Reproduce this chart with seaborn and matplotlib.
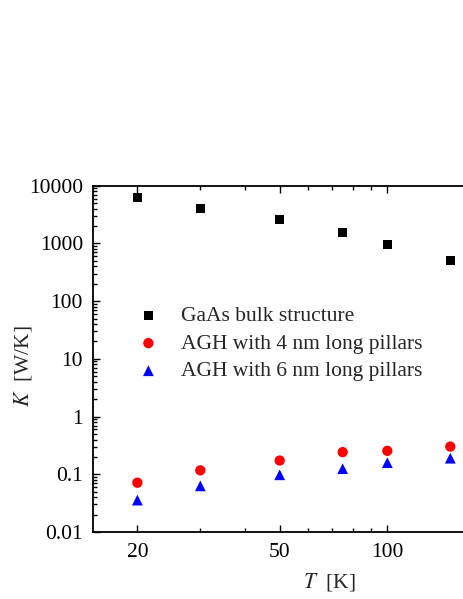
import matplotlib
matplotlib.use("Agg")
import matplotlib.pyplot as plt
import seaborn as sns
import pandas as pd
import math
from matplotlib.ticker import LogLocator, NullFormatter, FixedLocator, FixedFormatter

temps = [20, 30, 50, 75, 100, 150]
gaas_bulk = [6200, 4050, 2640, 1560, 940, 515]
agh_4nm = [0.0715, 0.117, 0.173, 0.242, 0.255, 0.302]
agh_6nm = [0.0357, 0.063, 0.098, 0.125, 0.159, 0.19]
series_names = ["GaAs bulk structure", "AGH with 4 nm long pillars", "AGH with 6 nm long pillars"]
x_ticks = [20, 50, 100]
x_tick_labels = ["20", "50", "100"]
y_ticks = [0.01, 0.1, 1, 10, 100, 1000, 10000]
y_tick_labels = ["0.01", "0.1", "1", "10", "100", "1000", "10000"]

sns.set_style("ticks")
plt.rcParams['font.family'] = ['Liberation Serif', 'DejaVu Serif']
plt.rcParams['mathtext.fontset'] = 'stix'

W, H = 463, 599
fig = plt.figure(figsize=(W / 100, H / 100), dpi=100)
left_px, top_px, bottom_px = 92.7, 185.7, 532.0
xmin, xmax = 15, 165
px_per_dec = 357.6
width_px = px_per_dec * math.log10(xmax / xmin)
ax = fig.add_axes([left_px / W, 1 - bottom_px / H, width_px / W, (bottom_px - top_px) / H])

df = pd.DataFrame({
    "T": temps * 3,
    "K": gaas_bulk + agh_4nm + agh_6nm,
    "series": [series_names[0]] * 6 + [series_names[1]] * 6 + [series_names[2]] * 6,
})

palette = {series_names[0]: "black", series_names[1]: "#ff0000", series_names[2]: "#0000ff"}
markers = {series_names[0]: "s", series_names[1]: "o", series_names[2]: "^"}
sizes = {series_names[0]: 42, series_names[1]: 55, series_names[2]: 60}
for name in series_names:
    sub = df[df["series"] == name]
    sns.scatterplot(data=sub, x="T", y="K", color=palette[name], marker=markers[name],
                    s=sizes[name], edgecolor="none", linewidth=0, label=name, ax=ax, clip_on=False)

ax.set_xscale("log")
ax.set_yscale("log")
ax.set_xlim(xmin, xmax)
ax.set_ylim(0.01, 10000)

ax.xaxis.set_major_locator(FixedLocator(x_ticks))
ax.xaxis.set_major_formatter(FixedFormatter(x_tick_labels))
ax.xaxis.set_minor_locator(FixedLocator([30, 40, 60, 70, 80, 90]))
ax.xaxis.set_minor_formatter(NullFormatter())
ax.yaxis.set_major_locator(FixedLocator(y_ticks))
ax.yaxis.set_major_formatter(FixedFormatter(y_tick_labels))
ax.yaxis.set_minor_locator(LogLocator(base=10, subs=range(2, 10), numticks=20))
ax.yaxis.set_minor_formatter(NullFormatter())

ax.tick_params(which="both", direction="in", top=True, right=False, labelsize=15.5, width=1.0, colors="black")
ax.tick_params(which="major", length=5)
ax.tick_params(which="minor", length=3)
ax.tick_params(axis="x", which="major", pad=8)
ax.tick_params(axis="y", which="major", pad=7)
for s in ax.spines.values():
    s.set_linewidth(1.3)
    s.set_color("black")

ax.set_xlabel(r"$T$  [K]", fontsize=15.5)
ax.set_ylabel(r"$K$  [W/K]", fontsize=15.5)
ax.xaxis.set_label_coords((329 - left_px) / width_px, -(582 - bottom_px) / (bottom_px - top_px))
ax.xaxis.label.set_va("center")
ax.yaxis.set_label_coords(-(left_px - 23) / width_px, (bottom_px - 366.7) / (bottom_px - top_px))
ax.yaxis.label.set_va("center")

ax.legend(loc="upper left", bbox_to_anchor=((129 - left_px) / width_px, (bottom_px - 297.5) / (bottom_px - top_px)),
          frameon=False, fontsize=15.5, handletextpad=1.0, labelspacing=0.35, borderaxespad=0,
          handlelength=1.0, markerscale=1.0)

fig.savefig("out.png", dpi=100)
